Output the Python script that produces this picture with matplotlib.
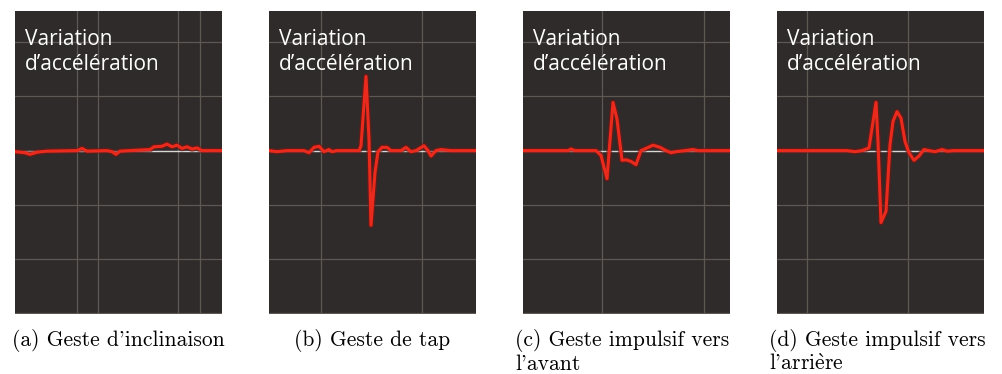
import matplotlib.pyplot as plt

plt.rcParams['mathtext.fontset'] = 'cm'

# acceleration traces (time in samples, value in grid units)
t_tilt = [0, 10, 15, 22, 32, 62, 67, 72, 92, 97, 101, 105, 135, 139, 147, 152,
          157, 162, 167, 172, 177, 182, 187, 195, 207]
acc_tilt = [-0.02, -0.04, -0.07, -0.03, -0.01, 0.0, 0.04, -0.01, 0.0, -0.02,
            -0.07, -0.01, 0.02, 0.07, 0.08, 0.12, 0.07, 0.1, 0.04, 0.07, 0.03,
            0.05, 0.0, 0.0, 0.0]

t_tap = [0, 8, 18, 35, 40, 45, 50, 55, 60, 63, 68, 90, 92, 97, 100, 102, 106,
         109, 113, 118, 122, 132, 137, 142, 147, 155, 159, 162, 167, 172, 182, 207]
acc_tap = [0.0, -0.02, 0.0, 0.0, -0.04, 0.06, 0.08, -0.02, 0.02, -0.02, 0.0,
           0.0, 0.09, 1.37, 0.21, -1.38, -0.4, -0.02, 0.06, 0.06, 0.0, 0.0,
           0.06, -0.02, 0.0, 0.09, 0.0, -0.1, 0.0, 0.02, 0.0, 0.0]

t_fwd = [0, 45, 48, 52, 73, 78, 84, 90, 94, 99, 103, 108, 113, 118, 123, 130,
         137, 143, 148, 153, 162, 170, 175, 207]
acc_fwd = [0.0, 0.0, 0.03, 0.0, 0.0, -0.09, -0.52, 0.89, 0.58, -0.18, -0.17,
           -0.2, -0.26, 0.0, 0.04, 0.1, 0.06, 0.0, -0.04, -0.02, 0.0, 0.02,
           0.0, 0.0]

t_back = [0, 62, 70, 78, 85, 92, 99, 101, 104, 109, 113, 116, 120, 124, 128,
          132, 137, 142, 147, 152, 158, 165, 170, 177, 207]
acc_back = [0.0, 0.0, 0.0, -0.02, 0.0, 0.05, 0.89, 0.17, -1.33, -1.12, 0.11,
            0.54, 0.72, 0.6, 0.17, -0.04, -0.18, -0.1, 0.02, 0.0, -0.02, 0.02,
            -0.01, 0.0, 0.0]

title_lines = ["Variation", "d\u2019acc\u00e9l\u00e9ration"]
captions = [["(a) Geste d'inclinaison"],
            ["(b) Geste de tap"],
            ["(c) Geste impulsif vers", "l'avant"],
            ["(d) Geste impulsif vers", r"l'arri$\mathrm{\grave{e}}$re"]]
vgrid = [[62, 83, 163, 185], [52, 153], [79, 181], [30, 131]]
hgrid = [2, 1, -1, -2, -3]

traces = [(t_tilt, acc_tilt), (t_tap, acc_tap), (t_fwd, acc_fwd), (t_back, acc_back)]

W, H = 1002, 374
fig = plt.figure(figsize=(W / 100, H / 100), dpi=100)
fig.patch.set_facecolor('white')

bg = '#2f2b2b'
gridc = '#5e5852'
red = '#ea2a1c'

lefts = [15, 269, 523, 777]
top, bottom = 11, 314
pw = 207
ph = bottom - top

for i, (t, acc) in enumerate(traces):
    ax = fig.add_axes([lefts[i] / W, (H - bottom) / H, pw / W, ph / H])
    ax.set_facecolor(bg)
    ax.set_xlim(0, 207)
    ax.set_ylim(-3.02, 2.58)
    for s in ax.spines.values():
        s.set_visible(False)
    ax.set_xticks([])
    ax.set_yticks([])
    for y in hgrid:
        ax.axhline(y, color=gridc, lw=0.9, zorder=1)
    for x in vgrid[i]:
        ax.axvline(x, color=gridc, lw=0.9, zorder=1)
    ax.axhline(0, color='#d9d6d6', lw=1.0, zorder=2)
    ax.plot(t, acc, color='#7a1410', lw=4.2, alpha=0.6, solid_joinstyle='round', zorder=3)
    ax.plot(t, acc, color=red, lw=2.2, solid_joinstyle='round', zorder=4)

    for k, line in enumerate(title_lines):
        ax.text(10 / pw, 1 - (45 + 24.5 * k - top) / ph, line, transform=ax.transAxes,
                color='white', fontsize=15, family='Open Sans', va='baseline', ha='left')

    # captions: single lines centred under the panel, wrapped ones flush left
    lines = captions[i]
    for k, line in enumerate(lines):
        yb = (H - 345.5 - 24.5 * k) / H
        if len(lines) == 1:
            fig.text((lefts[i] + pw / 2) / W, yb, line, family=['cmr10', 'DejaVu Serif'],
                     fontsize=15.5, va='baseline', ha='center')
        else:
            fig.text((lefts[i] - 8) / W, yb, line, family=['cmr10', 'DejaVu Serif'],
                     fontsize=15.5, va='baseline', ha='left')

fig.savefig('out.png', dpi=100, facecolor='white')
